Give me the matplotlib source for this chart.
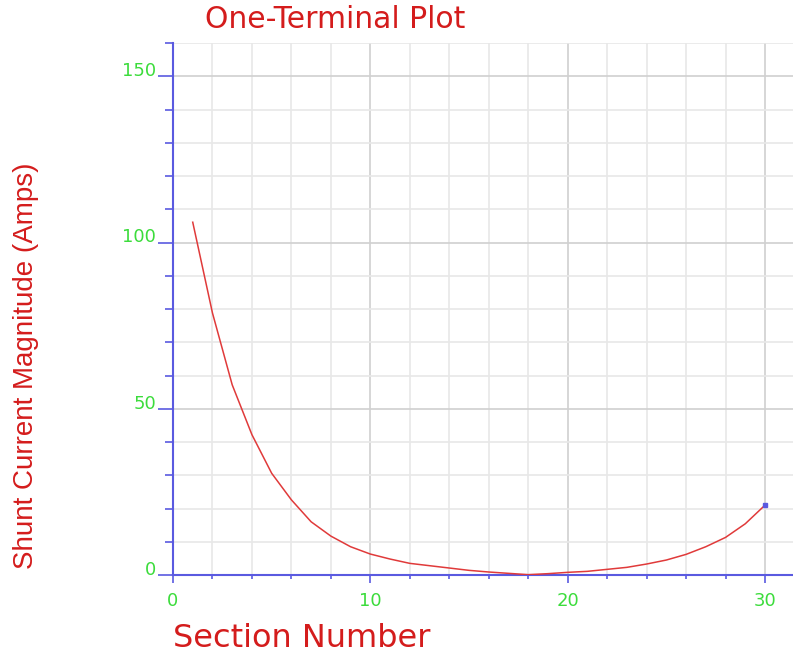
import numpy as np
import matplotlib.pyplot as plt
from matplotlib.ticker import MultipleLocator

# Shunt current per section
sections = list(range(1, 31))
shunt_amps = [106.1, 78.8, 57.2, 42.2, 30.6, 22.6, 16.0, 11.7, 8.5, 6.3,
              4.8, 3.5, 2.8, 2.1, 1.4, 0.9, 0.5, 0.1, 0.4, 0.8,
              1.1, 1.7, 2.3, 3.3, 4.5, 6.2, 8.5, 11.3, 15.4, 21.0]

title = "One-Terminal Plot"
x_label = "Section Number"
y_label = "Shunt Current Magnitude (Amps)"

red = '#d41c1c'
green = '#3cdc3c'
blue = '#5a5ae0'

fig = plt.figure(figsize=(7.93, 6.55), dpi=100)
ax = fig.add_axes([173 / 793, 80 / 655, 1 - 173 / 793, 532 / 655])

ax.plot(sections, shunt_amps, color='#e03a3a', lw=1.1, zorder=3)
ax.plot(sections[-1:], shunt_amps[-1:], 's', color=blue, ms=2.5, zorder=4)

ax.set_xlim(0, 31.42)
ax.set_ylim(0, 160)

ax.xaxis.set_major_locator(MultipleLocator(10))
ax.xaxis.set_minor_locator(MultipleLocator(2))
ax.yaxis.set_major_locator(MultipleLocator(50))
ax.yaxis.set_minor_locator(MultipleLocator(10))

# grid: light minor lines, slightly darker major lines
ax.grid(which='minor', color='#e8e8e8', lw=1.2, zorder=0)
ax.grid(which='major', color='#d0d0d0', lw=1.2, zorder=1)
ax.set_axisbelow(True)

for side in ['top', 'right']:
    ax.spines[side].set_visible(False)
for side in ['left', 'bottom']:
    ax.spines[side].set_color(blue)
    ax.spines[side].set_linewidth(1.5)

ax.tick_params(axis='y', which='major', length=11, width=1.2, color=blue,
               pad=1, labelsize=13, labelcolor=green)
ax.tick_params(axis='y', which='minor', length=6, width=1.2, color=blue)
ax.tick_params(axis='x', which='major', length=5.5, width=1.2, color=blue,
               pad=7, labelsize=13, labelcolor=green)
ax.tick_params(axis='x', which='minor', length=3, width=1.2, color=blue)
for lab in ax.get_yticklabels():
    lab.set_verticalalignment('baseline')
    lab.set_fontfamily('DejaVu Sans')
for lab in ax.get_xticklabels():
    lab.set_fontfamily('DejaVu Sans')

fig.text(205 / 793, 1 - 28 / 655, title, color=red, fontsize=21.5,
         family='DejaVu Sans', va='baseline', ha='left')
fig.text(173 / 793, 1 - 647 / 655, x_label, color=red, fontsize=23,
         family='DejaVu Sans', va='baseline', ha='left')
fig.text(26 / 793, 1 - 366 / 655, y_label, color=red, fontsize=20,
         family='Liberation Sans', rotation=90, va='center', ha='center')

fig.savefig('out.png', dpi=100)
